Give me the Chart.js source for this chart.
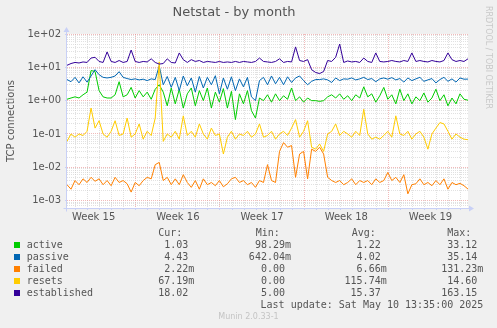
<!DOCTYPE html>
<html>
<head>
<meta charset="utf-8">
<title>Netstat - by month</title>
<script src="https://cdn.jsdelivr.net/npm/chart.js"></script>
<style>
  html, body { margin: 0; padding: 0; background: #f0f0f0; }
  #netstat { display: block; }
</style>
</head>
<body>
<canvas id="netstat" width="497" height="328"></canvas>
<script>
// Netstat, month view: one sample every 8 hours (axis unit = 2 hours)
const STEP = 4;
const SPAN = 400;

const seriesNames = ['active', 'passive', 'failed', 'resets', 'established'];
const seriesColors = ['#00cc00', '#0066b3', '#ff8000', '#ffcc00', '#330099'];

const active = [1.1, 1.2, 1.3, 1.2, 1.5, 1.8, 8.0, 7.5, 2.0, 1.3,
  1.2, 1.2, 1.5, 3.7, 1.3, 1.5, 2.5, 1.2, 2.0, 1.3,
  1.8, 1.1, 2.2, 3.0, 1.8, 0.7, 2.4, 0.8, 2.2, 0.6,
  1.6, 2.4, 0.7, 2.0, 1.0, 2.4, 0.6, 1.8, 0.9, 2.3,
  0.6, 1.9, 0.27, 1.6, 0.8, 2.0, 0.5, 0.3, 1.2, 1.0,
  1.5, 0.9, 1.6, 1.0, 1.4, 1.1, 2.4, 1.0, 1.3, 0.9,
  1.2, 1.0, 1.0, 0.95, 1.0, 1.3, 1.5, 1.2, 1.6, 1.1,
  1.4, 1.0, 1.5, 1.2, 2.6, 1.3, 1.6, 0.9, 1.4, 2.5,
  1.1, 1.5, 0.8, 2.2, 1.0, 1.6, 0.8, 1.3, 1.0, 1.7,
  0.9, 1.2, 2.2, 1.0, 1.5, 0.7, 1.2, 0.8, 1.6, 1.1,
  1.03];

const passive = [4.3, 3.7, 5.0, 3.4, 5.2, 3.6, 5.5, 8.5, 6.0, 5.0,
  4.8, 5.0, 5.5, 7.4, 5.0, 4.6, 4.3, 4.5, 4.2, 4.4,
  4.0, 4.5, 4.3, 11.0, 3.0, 5.3, 2.5, 5.0, 2.0, 5.5,
  2.8, 4.8, 1.8, 5.3, 2.4, 5.0, 3.0, 5.6, 1.6, 4.8,
  2.2, 5.2, 2.0, 4.5, 2.6, 5.0, 1.3, 1.0, 4.0, 5.0,
  3.0, 5.5, 3.2, 5.0, 3.0, 5.2, 3.5, 4.8, 5.5, 4.0,
  3.0, 3.8, 4.3, 4.3, 4.5, 4.2, 3.5, 4.8, 4.0, 4.5,
  4.4, 4.8, 4.2, 4.5, 5.0, 4.3, 4.6, 3.7, 4.5, 4.8,
  4.4, 4.9, 4.2, 4.6, 3.6, 4.8, 4.0, 4.5, 5.0, 3.8,
  4.2, 4.6, 3.4, 4.3, 5.0, 3.8, 4.5, 3.6, 4.8, 4.4,
  4.43];

const failed = [0.003, 0.0022, 0.004, 0.003, 0.0045, 0.0035, 0.005, 0.0038, 0.0045, 0.003,
  0.004, 0.0028, 0.005, 0.0035, 0.004, 0.0032, 0.0018, 0.0035, 0.0028, 0.004,
  0.005, 0.0045, 0.012, 0.014, 0.004, 0.005, 0.003, 0.0045, 0.003, 0.006,
  0.0035, 0.0025, 0.004, 0.0022, 0.0045, 0.003, 0.0035, 0.0028, 0.004, 0.0026,
  0.0032, 0.0045, 0.005, 0.0035, 0.004, 0.003, 0.0035, 0.0025, 0.004, 0.0035,
  0.012, 0.004, 0.0035, 0.03, 0.055, 0.04, 0.045, 0.005, 0.025, 0.03,
  0.0045, 0.035, 0.03, 0.04, 0.025, 0.005, 0.004, 0.0035, 0.004, 0.003,
  0.0035, 0.0045, 0.003, 0.004, 0.0035, 0.004, 0.003, 0.0045, 0.0035, 0.004,
  0.007, 0.004, 0.005, 0.0035, 0.006, 0.0016, 0.003, 0.0032, 0.0045, 0.003,
  0.0035, 0.0028, 0.004, 0.003, 0.0045, 0.0022, 0.0035, 0.003, 0.0033, 0.0028,
  0.00222];

const resets = [0.06, 0.1, 0.08, 0.1, 0.09, 0.12, 0.6, 0.15, 0.25, 0.1,
  0.08, 0.12, 0.25, 0.09, 0.1, 0.3, 0.08, 0.1, 0.2, 0.07,
  0.12, 0.09, 0.3, 14.6, 0.06, 0.1, 0.08, 0.12, 0.07, 0.35,
  0.09, 0.12, 0.08, 0.2, 0.1, 0.07, 0.15, 0.09, 0.1, 0.025,
  0.08, 0.12, 0.07, 0.1, 0.09, 0.12, 0.08, 0.1, 0.2, 0.08,
  0.09, 0.12, 0.07, 0.1, 0.12, 0.09, 0.15, 0.27, 0.08, 0.12,
  0.25, 0.04, 0.035, 0.05, 0.03, 0.1, 0.12, 0.2, 0.09, 0.12,
  0.1, 0.08, 0.12, 0.09, 0.55, 0.1, 0.07, 0.08, 0.07, 0.09,
  0.12, 0.08, 0.35, 0.1, 0.09, 0.12, 0.07, 0.1, 0.12, 0.08,
  0.035, 0.1, 0.15, 0.22, 0.2, 0.12, 0.07, 0.1, 0.08, 0.07,
  0.06719];

const established = [11.5, 13, 14, 13.5, 14.5, 14, 19, 20, 15, 14,
  29, 15, 14, 16, 14, 15, 33, 15, 14, 15,
  14.5, 18, 14, 12.5, 13, 18, 14, 13.5, 27, 17,
  14, 17, 15, 16, 14, 15, 14.5, 14, 15, 14,
  14.5, 14, 15, 14, 15, 14.5, 14, 15, 19, 15,
  14.5, 14, 15, 18, 14, 15, 14.5, 41, 16, 15,
  17, 8.5, 7, 6.5, 7.5, 16, 15, 20, 50, 14,
  15.5, 14.5, 15, 14, 19, 15, 14, 27, 15, 14.5,
  15, 16, 15, 14.5, 16, 15, 27, 15, 16, 15,
  14.5, 16, 15, 14.5, 16, 27, 17, 15, 16, 15,
  18.02];

// figures printed under the graph
const minValues = [0.09829, 0.64204, 0, 0, 5.00];
const avgValues = [1.22, 4.02, 0.00666, 0.11574, 15.37];
const maxValues = [33.12, 35.14, 0.13123, 14.60, 163.15];

const weekLabels = ['Week 15', 'Week 16', 'Week 17', 'Week 18', 'Week 19'];
const lastUpdate = 'Last update: Sat May 10 13:35:00 2025';

const allSeries = [active, passive, failed, resets, established];

// grid / axis look
const AXIS = '#c8d0f6';
const GRID_MINOR = 'rgba(200,200,200,0.55)';
const GRID_MAJOR = 'rgba(232,140,140,0.6)';
const TEXT = '#555555';
const Y_MIN = Math.pow(10, -3.21);
const Y_MAX = 100;

// x ticks: a dotted line per day, a red one per week, week names in the middle of each week
const DAY = 12;
const FIRST_DAY = 8.6;
const WEEK_OFFSET = 5;      // the 6th day line is the first week boundary
const xTicks = [];
for (let k = 0; FIRST_DAY + k * DAY <= SPAN; k++) {
  xTicks.push({ value: FIRST_DAY + k * DAY, weekly: (k - WEEK_OFFSET) % 7 === 0, label: '' });
}
const firstWeek = FIRST_DAY + WEEK_OFFSET * DAY;
weekLabels.forEach((txt, i) => {
  xTicks.push({ value: firstWeek + (i - 0.5) * 7 * DAY, weekly: false, label: txt, onlyLabel: true });
});
xTicks.sort((a, b) => a.value - b.value);

// y ticks: 1..9 inside every decade
const yTicks = [];
for (let n = -4; n <= 1; n++) {
  for (let k = 1; k <= 9; k++) {
    const v = k * Math.pow(10, n);
    if (v >= Y_MIN && v <= Y_MAX) yTicks.push({ value: v, decade: k === 1 });
  }
}
yTicks.push({ value: Y_MAX, decade: true });

function expLabel(v) {
  const e = Math.round(Math.log10(v));
  const sign = e < 0 ? '-' : '+';
  const abs = Math.abs(e);
  return '1e' + sign + (abs < 10 ? '0' : '') + abs;
}

function fmt(v) {
  if (v !== 0 && Math.abs(v) < 1) return (v * 1000).toFixed(2) + 'm';
  return v.toFixed(2) + ' ';
}

const datasets = allSeries.map((serie, i) => ({
  label: seriesNames[i],
  data: serie.map((v, j) => ({ x: j * STEP, y: v })),
  borderColor: seriesColors[i],
  backgroundColor: seriesColors[i],
  borderWidth: 1,
  pointRadius: 0,
  tension: 0,
  fill: false,
  order: allSeries.length - 1 - i
}));

const munin = {
  id: 'munin',
  beforeDraw(chart) {
    const { ctx, chartArea: a } = chart;
    ctx.save();
    ctx.fillStyle = '#ffffff';
    ctx.fillRect(a.left, a.top, a.right - a.left, a.bottom - a.top);
    ctx.restore();
  },
  afterDraw(chart) {
    const { ctx, chartArea: a } = chart;
    ctx.save();

    // axes with arrow heads
    const x0 = Math.round(a.left) - 0.5;
    const y0 = Math.round(a.bottom) + 0.5;
    ctx.strokeStyle = AXIS;
    ctx.fillStyle = AXIS;
    ctx.lineWidth = 1;
    ctx.beginPath();
    ctx.moveTo(x0, y0 + 3);
    ctx.lineTo(x0, a.top - 2);
    ctx.moveTo(x0 - 3, y0);
    ctx.lineTo(a.right + 2, y0);
    ctx.stroke();
    ctx.beginPath();
    ctx.moveTo(x0 - 3, a.top - 2);
    ctx.lineTo(x0 + 3, a.top - 2);
    ctx.lineTo(x0, a.top - 7);
    ctx.closePath();
    ctx.fill();
    ctx.beginPath();
    ctx.moveTo(a.right + 1, y0 - 3);
    ctx.lineTo(a.right + 1, y0 + 3);
    ctx.lineTo(a.right + 6, y0);
    ctx.closePath();
    ctx.fill();

    // vertical credit on the right
    ctx.save();
    ctx.translate(488.5, 6);
    ctx.rotate(Math.PI / 2);
    ctx.fillStyle = '#c8c8c8';
    ctx.font = '8px "DejaVu Sans"';
    ctx.textAlign = 'left';
    ctx.textBaseline = 'middle';
    ctx.fillText('RRDTOOL / TOBI OETIKER', 0, 0);
    ctx.restore();

    // legend table
    ctx.font = '10px "DejaVu Sans Mono"';
    ctx.fillStyle = TEXT;
    ctx.textBaseline = 'middle';
    ctx.textAlign = 'left';
    const heads = ['Cur:', 'Min:', 'Avg:', 'Max:'];
    const headX = [158.3, 255.7, 351.7, 447.3];
    const colRight = [194.3, 291, 386.7, 483.3];
    heads.forEach((h, i) => ctx.fillText(h, headX[i], 233.5));

    seriesNames.forEach((name, i) => {
      const y = 245.5 + i * 12;
      ctx.fillStyle = seriesColors[i];
      ctx.fillRect(14, y - 3.5, 6, 6);
      ctx.fillStyle = TEXT;
      ctx.textAlign = 'left';
      ctx.fillText(name, 26.7, y);
      const serie = allSeries[i];
      const cells = [serie[serie.length - 1], minValues[i], avgValues[i], maxValues[i]];
      ctx.textAlign = 'right';
      cells.forEach((v, c) => ctx.fillText(fmt(v), colRight[c], y));
    });
    ctx.textAlign = 'right';
    ctx.fillText(lastUpdate, 483.3, 305.7);

    ctx.font = '8px "DejaVu Sans"';
    ctx.fillStyle = '#c4c4c4';
    ctx.textAlign = 'center';
    ctx.fillText('Munin 2.0.33-1', 248.5, 317);
    ctx.restore();
  }
};

new Chart(document.getElementById('netstat'), {
  type: 'line',
  data: { datasets: datasets },
  plugins: [munin],
  options: {
    responsive: false,
    animation: false,
    devicePixelRatio: 1,
    events: [],
    layout: { padding: { left: 0, right: 29, top: 0, bottom: 0 } },
    plugins: {
      legend: { display: false },
      tooltip: { enabled: false },
      title: {
        display: true,
        text: 'Netstat - by month',
        color: TEXT,
        font: { family: 'DejaVu Sans', size: 13, weight: 'normal', lineHeight: 1.2 },
        padding: { top: 5, bottom: 13.4 }
      }
    },
    scales: {
      x: {
        type: 'linear',
        min: 0,
        max: SPAN,
        afterBuildTicks: (scale) => { scale.ticks = xTicks.map(t => Object.assign({}, t)); },
        afterFit: (scale) => { scale.height = 120; },
        grid: {
          color: (c) => !c.tick || c.tick.onlyLabel ? 'rgba(0,0,0,0)' : (c.tick.weekly ? GRID_MAJOR : GRID_MINOR),
          tickColor: (c) => !c.tick || c.tick.onlyLabel ? 'rgba(0,0,0,0)' : AXIS,
          tickLength: 2,
          lineWidth: 1
        },
        border: { display: false, dash: [1, 1] },
        ticks: {
          autoSkip: false,
          maxRotation: 0,
          padding: 1,
          color: TEXT,
          font: { family: 'DejaVu Sans', size: 10 },
          callback: (v, i, ticks) => ticks[i].label || ''
        }
      },
      y: {
        type: 'logarithmic',
        min: Y_MIN,
        max: Y_MAX,
        afterBuildTicks: (scale) => { scale.ticks = yTicks.map(t => Object.assign({}, t)); },
        afterFit: (scale) => { scale.width = 67; },
        grid: {
          color: (c) => c.tick && c.tick.decade ? GRID_MAJOR : GRID_MINOR,
          tickColor: (c) => c.tick && c.tick.decade ? AXIS : 'rgba(0,0,0,0)',
          tickLength: 2,
          lineWidth: 1
        },
        border: { display: false, dash: [1, 1] },
        ticks: {
          autoSkip: false,
          padding: 4,
          color: TEXT,
          font: { family: 'DejaVu Sans', size: 10 },
          callback: (v, i, ticks) => ticks[i].decade ? expLabel(v) : ''
        },
        title: {
          display: true,
          text: 'TCP connections',
          color: TEXT,
          font: { family: 'DejaVu Sans', size: 10, lineHeight: 1.2 },
          padding: { top: 5, bottom: 0 }
        }
      }
    }
  }
});
</script>
</body>
</html>
